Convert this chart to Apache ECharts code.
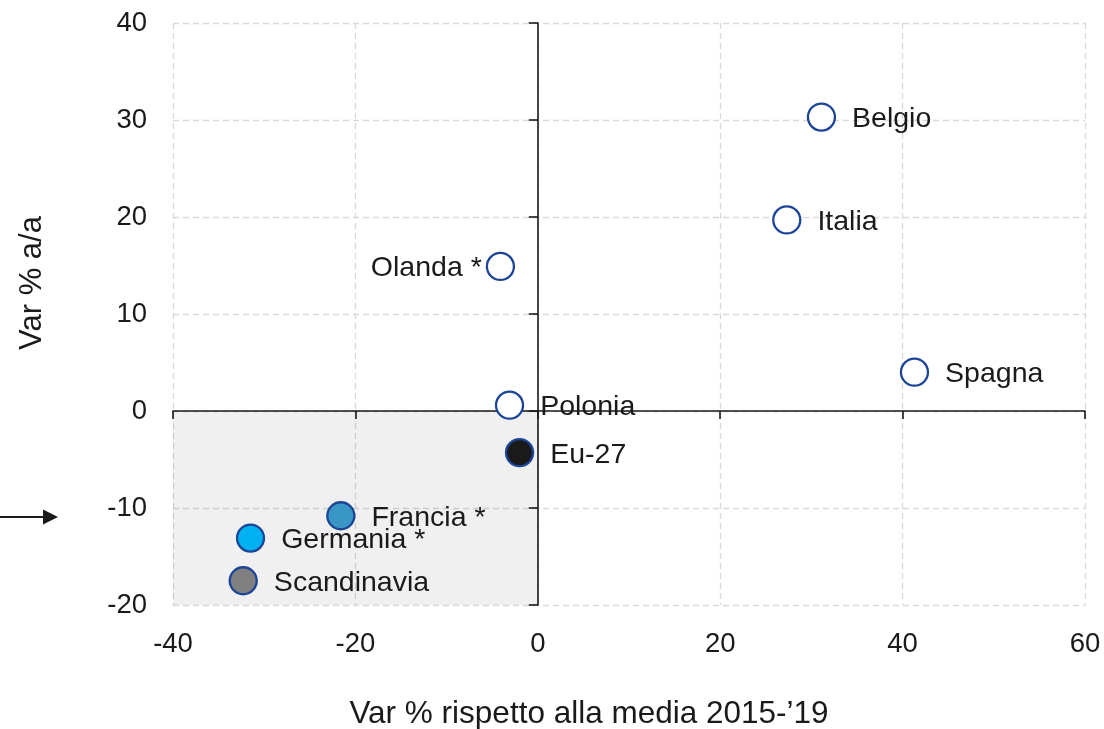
<!DOCTYPE html>
<html>
<head>
<meta charset="utf-8">
<script src="https://cdn.jsdelivr.net/npm/echarts@6/dist/echarts.min.js"></script>
<style>
html,body{margin:0;padding:0;background:#fff;}
#chart{width:1104px;height:729px;}
</style>
</head>
<body>
<div id="chart"></div>
<script>
// ---- Data ----
const countries = ['Belgio', 'Italia', 'Olanda *', 'Spagna', 'Polonia', 'Eu-27', 'Francia *', 'Germania *', 'Scandinavia'];
const varVsMedia = [31.1, 27.3, -4.1, 41.3, -3.1, -2.0, -21.6, -31.5, -32.3];   // x: Var % rispetto alla media 2015-'19
const varAnnua   = [30.3, 19.7, 14.9, 4.0, 0.6, -4.3, -10.8, -13.1, -17.5];    // y: Var % a/a
const xTicks = [-40, -20, 0, 20, 40, 60];
const yTicks = [-20, -10, 0, 10, 20, 30, 40];

// ---- Styles (kept separate from data) ----
const fillColors = {
  'Eu-27': '#1a1a1a',
  'Francia *': '#3a96c6',
  'Germania *': '#00b0f0',
  'Scandinavia': '#808080'
};
const leftLabels = ['Olanda *'];
const borderBlue = '#1c4598';
const FONT = "'Liberation Sans', Arial, sans-serif";

const xMin = xTicks[0], xMax = xTicks[xTicks.length - 1];
const yMin = yTicks[0], yMax = yTicks[yTicks.length - 1];
const xStep = xTicks[1] - xTicks[0];
const yStep = yTicks[1] - yTicks[0];

const points = countries.map((name, i) => {
  const left = leftLabels.indexOf(name) >= 0;
  return {
    name: name,
    value: [varVsMedia[i], varAnnua[i]],
    itemStyle: { color: fillColors[name] || '#ffffff' },
    label: { position: left ? 'left' : 'right', distance: left ? 4 : 16 }
  };
});

const chart = echarts.init(document.getElementById('chart'));
const gridLine = { show: true, lineStyle: { color: '#d9d9d9', width: 1.3, type: [6, 4] } };

chart.setOption({
  backgroundColor: '#ffffff',
  animation: false,
  textStyle: { fontFamily: FONT },
  grid: { left: 173, right: 19, top: 23, bottom: 124, containLabel: false, outerBoundsMode: 'none' },
  xAxis: [
    {
      type: 'value', min: xMin, max: xMax, interval: xStep, position: 'bottom',
      axisLine: { show: false, onZero: false },
      axisTick: { show: false },
      axisLabel: { fontSize: 27.5, color: '#1a1a1a', margin: 25, fontFamily: FONT },
      splitLine: gridLine,
      name: "Var % rispetto alla media 2015-\u201919",
      nameLocation: 'middle', nameGap: 93,
      nameTextStyle: { fontSize: 31.5, color: '#1a1a1a', fontFamily: FONT, padding: [0, 80, 0, 0] }
    },
    {
      type: 'value', min: xMin, max: xMax, interval: xStep, position: 'bottom',
      axisLine: { show: true, onZero: true, onZeroAxisIndex: 0, lineStyle: { color: '#1a1a1a', width: 1.6 } },
      axisTick: { show: true, inside: false, length: 8, lineStyle: { color: '#1a1a1a', width: 1.6 } },
      axisLabel: { show: false },
      splitLine: { show: false }
    }
  ],
  yAxis: [
    {
      type: 'value', min: yMin, max: yMax, interval: yStep, position: 'left',
      axisLine: { show: false, onZero: false },
      axisTick: { show: false },
      axisLabel: { fontSize: 27.5, color: '#1a1a1a', margin: 26, fontFamily: FONT },
      splitLine: gridLine,
      name: 'Var % a/a',
      nameLocation: 'middle', nameGap: 125,
      nameTextStyle: { fontSize: 31, color: '#1a1a1a', fontFamily: FONT, padding: [0, 0, 0, 62] }
    },
    {
      type: 'value', min: yMin, max: yMax, interval: yStep, position: 'left',
      axisLine: { show: true, onZero: true, onZeroAxisIndex: 0, lineStyle: { color: '#1a1a1a', width: 1.6 } },
      axisTick: { show: true, inside: false, length: 9, lineStyle: { color: '#1a1a1a', width: 1.6 } },
      axisLabel: { show: false },
      splitLine: { show: false }
    }
  ],
  series: [
    {
      type: 'scatter',
      xAxisIndex: 0, yAxisIndex: 0,
      symbol: 'circle',
      symbolSize: 27,
      itemStyle: { borderColor: borderBlue, borderWidth: 2.3, opacity: 1 },
      label: { show: true, formatter: '{b}', fontSize: 28.5, color: '#1a1a1a', fontFamily: FONT, offset: [0, 2] },
      emphasis: { disabled: true },
      data: points,
      z: 5,
      markArea: {
        silent: true,
        itemStyle: { color: 'rgba(0,0,0,0.06)' },
        data: [[{ xAxis: xMin, yAxis: yMin }, { xAxis: 0, yAxis: 0 }]]
      }
    }
  ],
  graphic: [
    { type: 'line', shape: { x1: 0, y1: 517, x2: 46, y2: 517 }, style: { stroke: '#1a1a1a', lineWidth: 2 } },
    { type: 'polygon', shape: { points: [[43, 509.5], [58, 517], [43, 524.5]] }, style: { fill: '#1a1a1a' } }
  ]
});
</script>
</body>
</html>
